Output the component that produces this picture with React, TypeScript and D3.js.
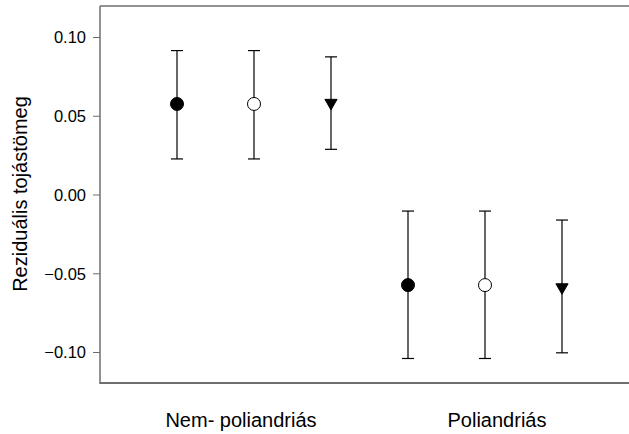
import React from "react";
import * as d3 from "d3";

const categories = ["Nem- poliandriás", "Poliandriás"];
const seriesNames = ["filled", "open", "triangle"];
const meanNem = [0.0578, 0.0578, 0.0585];
const upperNem = [0.0917, 0.0917, 0.0877];
const lowerNem = [0.0229, 0.0229, 0.029];
const meanPoli = [-0.0572, -0.0572, -0.0586];
const upperPoli = [-0.0102, -0.0102, -0.0159];
const lowerPoli = [-0.1038, -0.1038, -0.1002];
const yTicks = [0.1, 0.05, 0.0, -0.05, -0.1];
const yLabel = "Reziduális tojástömeg";

const W = 629;
const H = 434;
const left = 100;
const right = 629;
const top = 6;
const bottom = 384;
const axisColor = "#6e6e6e";
const font = "Liberation Sans, Arial, sans-serif";

export default function App() {
  const y = d3.scaleLinear().domain([-0.12, 0.12]).range([bottom, top]);
  const x = d3.scaleLinear().domain([0, 5]).range([177, 562]);
  const xCat = d3.scalePoint().domain(categories).range([241, 497]);
  const fmt = d3.format(".2f");

  const points: { i: number; s: string; m: number; lo: number; hi: number }[] = [];
  seriesNames.forEach((s, k) => {
    points.push({ i: k, s, m: meanNem[k], lo: lowerNem[k], hi: upperNem[k] });
    points.push({ i: k + 3, s, m: meanPoli[k], lo: lowerPoli[k], hi: upperPoli[k] });
  });

  const circle = d3.symbol().type(d3.symbolCircle).size(Math.PI * 6.5 * 6.5)()!;
  const tri = d3.symbol().type(d3.symbolTriangle).size(64)()!;

  return (
    <svg
      width={W}
      height={H}
      style={{ position: "absolute", left: 0, top: 0, display: "block", background: "#fff" }}
    >
      {/* axes */}
      <line x1={left} x2={right} y1={top} y2={top} stroke={axisColor} strokeWidth={1.5} />
      <line x1={left} x2={right} y1={bottom - 1} y2={bottom - 1} stroke={axisColor} strokeWidth={2} />
      <line x1={left} x2={left} y1={top} y2={bottom} stroke={axisColor} strokeWidth={1.5} />
      {yTicks.map((t) => (
        <g key={t}>
          <line x1={left - 7} x2={left} y1={y(t)} y2={y(t)} stroke={axisColor} strokeWidth={1} />
          <text
            x={left - 14}
            y={y(t)}
            dy="0.36em"
            textAnchor="end"
            fontFamily={font}
            fontSize={16.5}
            fill="#000"
          >
            {fmt(t)}
          </text>
        </g>
      ))}
      <text
        transform={`translate(27,194) rotate(-90)`}
        textAnchor="middle"
        fontFamily={font}
        fontSize={20}
        fill="#000"
      >
        {yLabel}
      </text>
      {categories.map((c) => (
        <text
          key={c}
          x={xCat(c)}
          y={427}
          textAnchor="middle"
          fontFamily={font}
          fontSize={20}
          fill="#000"
        >
          {c}
        </text>
      ))}
      {/* error bars */}
      {points.map((p, k) => (
        <g key={"e" + k} stroke="#000" strokeWidth={1.2}>
          <line x1={x(p.i)} x2={x(p.i)} y1={y(p.hi)} y2={y(p.lo)} />
          <line x1={x(p.i) - 6} x2={x(p.i) + 6} y1={y(p.hi)} y2={y(p.hi)} />
          <line x1={x(p.i) - 6} x2={x(p.i) + 6} y1={y(p.lo)} y2={y(p.lo)} />
        </g>
      ))}
      {/* markers */}
      {points.map((p, k) => (
        <path
          key={"m" + k}
          d={p.s === "triangle" ? tri : circle}
          transform={`translate(${x(p.i)},${y(p.m)})${p.s === "triangle" ? " rotate(180)" : ""}`}
          fill={p.s === "open" ? "#fff" : "#000"}
          stroke="#000"
          strokeWidth={1}
        />
      ))}
    </svg>
  );
}
